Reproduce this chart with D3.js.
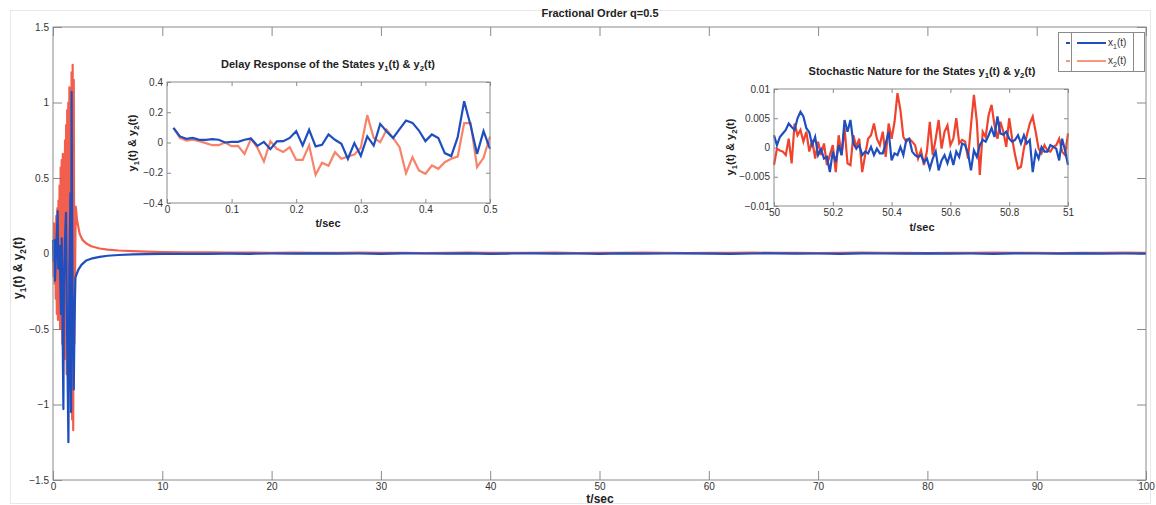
<!DOCTYPE html>
<html>
<head>
<meta charset="utf-8">
<script src="https://cdn.jsdelivr.net/npm/d3@7"></script>
<style>
  body { margin: 0; background: #fff; }
  svg { display: block; font-family: "Liberation Sans", Arial, Helvetica, sans-serif; }
  .tick text { fill: #333; }
</style>
</head>
<body>
<svg id="chart" width="1156" height="505"></svg>
<script>
// ---- data ----
// main plot, x1 (blue) transient
var spikeT1 = [0, 0.05, 0.13, 0.18, 0.30, 0.43, 0.48, 0.60, 0.73, 0.80, 0.95, 1.00,
               1.10, 1.19, 1.25, 1.41, 1.50, 1.60, 1.65, 1.70, 1.78, 1.90, 1.97];
var spikeY1 = [0.09, -0.05, 0.09, -0.18, 0.05, 0.28, -0.10, 0.05, -0.40, 0.10, -1.03, -0.20,
               0.10, 0.27, -0.30, -1.25, -0.10, 0.40, -1.05, 1.07, -0.20, -0.90, -0.44];
var decayT1 = [2.05, 2.3, 2.6, 3.05, 3.6, 4.27, 5, 6, 7.3, 8.5];
var decayY1 = [-0.16, -0.11, -0.075, -0.046, -0.032, -0.022, -0.015, -0.010, -0.006, -0.004];

// main plot, x2 (red) transient, sampled every 0.05 s from 0 to 1.95
var spikeY2 = [0.05, -0.15, 0.20, -0.20, 0.10, -0.30, 0.25, -0.40, 0.30, -0.44,
               0.35, -0.25, 0.45, -0.50, 0.57, -0.35, 0.62, -0.60, 0.66, -0.55,
               0.50, -0.70, 0.75, -0.65, 0.85, -0.80, 0.95, -0.75, 1.00, -0.90,
               1.10, -0.85, 1.05, -1.00, 1.20, -1.10, 1.25, -1.17, 1.15, -0.60];
var decayT2 = [2.08, 2.2, 2.44, 2.7, 3.05, 3.5, 4.27, 5, 6, 7.3, 8.5];
var decayY2 = [0.31, 0.22, 0.13, 0.09, 0.066, 0.048, 0.033, 0.026, 0.02, 0.016, 0.012];

// main plot steady part, every 2 s from 10 to 100
var tailY1 = [-0.003, -0.002, -0.002, -0.001, -0.002, 0, -0.001, 0.001, -0.001, 0,
              -0.002, 0.001, 0, -0.001, 0.001, -0.002, 0, 0.001, -0.001, 0,
              -0.002, 0.001, -0.001, 0, 0.001, -0.001, -0.002, 0, 0.001, -0.001,
              0, -0.002, 0.001, 0, -0.001, 0.001, -0.001, 0, -0.002, 0.001,
              0, -0.001, 0.001, -0.001, 0, -0.001];
var tailY2 = [0.009, 0.008, 0.007, 0.006, 0.006, 0.005, 0.006, 0.004, 0.005, 0.006,
              0.004, 0.005, 0.003, 0.005, 0.006, 0.004, 0.005, 0.004, 0.006, 0.003,
              0.005, 0.004, 0.006, 0.005, 0.003, 0.005, 0.004, 0.006, 0.004, 0.005,
              0.003, 0.005, 0.006, 0.004, 0.005, 0.003, 0.005, 0.004, 0.006, 0.004,
              0.005, 0.003, 0.005, 0.004, 0.006, 0.004];

// inset 1: delay response, t = 0.01 .. 0.50
var delayY1 = [0.097, 0.04, 0.024, 0.03, 0.018, 0.018, 0.022, 0.018, 0, 0.004,
               0.004, 0.018, 0.026, -0.022, 0.004, -0.044, 0.007, 0.009, 0.03, 0.075,
               -0.02, 0.084, -0.026, -0.015, 0.053, 0.018, -0.009, -0.108, -0.004, -0.088,
               0.04, -0.02, 0.123, 0.073, 0.03, 0.088, 0.145, 0.13, 0.079, 0.009,
               0.053, 0.029, -0.07, -0.09, 0.035, 0.273, 0.112, -0.075, 0.075, -0.042];
var delayY2 = [0.097, 0.03, 0.013, 0.018, 0.009, -0.004, -0.018, -0.018, 0, -0.024,
               -0.022, -0.075, 0.024, -0.035, -0.126, 0.009, -0.042, -0.062, -0.031, -0.115,
               -0.115, -0.018, -0.214, -0.134, -0.154, -0.064, -0.108, -0.093, -0.079, -0.035,
               0.181, 0.03, 0.002, 0.084, 0.03, -0.031, -0.203, -0.097, -0.185, -0.207,
               -0.152, -0.174, -0.13, -0.108, -0.093, 0.128, 0.128, -0.163, -0.101, 0.04];

// inset 2: stochastic nature, t = 50.00 .. 51.00
var stochY1 = [0.0021, 0.0004, 0.0018, 0.0024, 0.003, 0.0041, 0.0035, 0.003, 0.005, 0.0061,
               0.0053, 0.0033, 0.0026, 0.0004, 0.0018, -0.0013, -0.0003, -0.0019, -0.0016, -0.0042,
               -0.0007, -0.0025, 0.0004, -0.0013, 0.0047, 0.0027, 0.0047, 0.0007, -0.0002, 0.0004,
               -0.0013, -0.0007, -0.001, 0.0001, -0.0013, -0.0002, -0.001, -0.001, 0.0007, 0.0027,
               -0.0022, -0.001, -0.0013, 0.0001, -0.0013, 0.0013, 0.0015, -0.0007, -0.0013, -0.0016,
               -0.0013, -0.0025, -0.0019, -0.0036, -0.0019, -0.0007, -0.0039, -0.0022, -0.0013, -0.0027,
               -0.001, -0.003, -0.0007, -0.0016, 0.0007, 0.0004, -0.001, -0.0039, -0.0005, -0.0016,
               0.0004, 0.0013, 0.001, 0.0021, 0.0033, 0.0018, 0.0053, 0.0024, 0.0022, 0.0027,
               0.0015, 0.001, 0.0013, 0.0021, 0.0007, 0.0021, 0.0007, 0.0013, -0.0042, -0.0007,
               -0.0019, 0.0001, -0.0007, -0.0007, 0.0004, 0.0001, -0.0002, -0.0022, 0.0015, -0.0005,
               -0.003];
var stochY2 = [-0.003, -0.0002, -0.0005, -0.0007, -0.0013, 0.0015, -0.0027, 0.0041, 0.0021, 0.003,
               0.001, 0.0027, -0.0007, 0.0013, -0.0019, 0.001, -0.0013, 0.0007, -0.003, -0.0013,
               0.0004, -0.0042, 0.0021, -0.0013, 0.0033, -0.0027, -0.003, 0.0021, 0.0001, 0.0015,
               -0.0042, -0.0013, 0.0015, 0.0021, 0.0041, 0.0015, 0.0004, 0.0027, -0.0016, 0.0041,
               0.0015, 0.0044, 0.0093, 0.0064, 0.0018, 0.001, 0.0015, 0.001, 0.0004, -0.0019,
               -0.0005, -0.003, -0.0007, 0.0044, -0.0013, 0.0015, 0.0047, -0.0002, 0.0027, 0.0038,
               0.0004, 0.0015, 0.005, 0.0007, 0.0013, 0.001, -0.0019, 0.0038, 0.009, 0.0044,
               -0.0047, 0.0027, 0.0018, 0.0055, 0.0073, 0.0038, 0.0015, 0.0044, 0.0027, 0.0001,
               0.005, 0.0015, -0.0013, -0.0036, -0.0033, -0.0002, 0.0021, 0.0041, 0.0053, 0.0027,
               -0.0002, -0.001, 0.0004, -0.0005, -0.0007, 0.0001, 0.0004, 0.0015, -0.0007, -0.0013,
               0.0024];

// tick labels
var mainXTicks = [0, 10, 20, 30, 40, 50, 60, 70, 80, 90, 100];
var mainYTicks = [-1.5, -1, -0.5, 0, 0.5, 1, 1.5];
var delayXTicks = [0, 0.1, 0.2, 0.3, 0.4, 0.5];
var delayYTicks = [-0.4, -0.2, 0, 0.2, 0.4];
var stochXTicks = [50, 50.2, 50.4, 50.6, 50.8, 51];
var stochYTicks = [-0.01, -0.005, 0, 0.005, 0.01];
var legendLabels = ["x1(t)", "x2(t)"];

// ---- build point lists ----
function zip(ts, ys) { return ts.map(function(t, i) { return [t, ys[i]]; }); }

var tailT = d3.range(10, 101, 2);
var spikeT2 = d3.range(40).map(function(i) { return i * 0.05; });
var delayT = d3.range(1, 51).map(function(i) { return i / 100; });
var stochT = d3.range(0, 101).map(function(i) { return 50 + i / 100; });

var main1 = zip(spikeT1, spikeY1).concat(zip(decayT1, decayY1), zip(tailT, tailY1));
var main2 = zip(spikeT2, spikeY2).concat(zip(decayT2, decayY2), zip(tailT, tailY2));

var blue = "#1f4fbf",
    red = "#f0432e",
    salmon = "#f7836b",
    axisColor = "#8a8a8a";

var svg = d3.select("#chart");

// faint figure frame
svg.append("rect")
    .attr("x", 10.5).attr("y", 10.5)
    .attr("width", 1140).attr("height", 493)
    .attr("fill", "none").attr("stroke", "#e8e8e8");

function fmt(d) {
    var s = String(+Math.abs(d).toFixed(4));
    return (d < 0 ? "\u2212" : "") + s;
}

// axes in matlab style: box, inward ticks on all four sides
function axesBox(g, x, y, xt, yt, tick, fontSize) {
    var x0 = x.range()[0], x1 = x.range()[1],
        y0 = y.range()[0], y1 = y.range()[1];

    g.append("rect")
        .attr("x", x0).attr("y", y1)
        .attr("width", x1 - x0).attr("height", y0 - y1)
        .attr("fill", "#fff");

    g.append("g")
        .attr("transform", "translate(0," + y0 + ")")
        .call(d3.axisBottom(x).tickValues(xt).tickFormat(fmt).tickSizeInner(-tick).tickSizeOuter(0).tickPadding(3))
        .call(function(a) { a.select(".domain").remove(); });
    g.append("g")
        .attr("transform", "translate(0," + y1 + ")")
        .call(d3.axisTop(x).tickValues(xt).tickFormat("").tickSizeInner(-tick).tickSizeOuter(0))
        .call(function(a) { a.select(".domain").remove(); });
    g.append("g")
        .attr("transform", "translate(" + x0 + ",0)")
        .call(d3.axisLeft(y).tickValues(yt).tickFormat(fmt).tickSizeInner(-tick).tickSizeOuter(0).tickPadding(4))
        .call(function(a) { a.select(".domain").remove(); });
    g.append("g")
        .attr("transform", "translate(" + x1 + ",0)")
        .call(d3.axisRight(y).tickValues(yt).tickFormat("").tickSizeInner(-tick).tickSizeOuter(0))
        .call(function(a) { a.select(".domain").remove(); });

    g.selectAll(".tick line").attr("stroke", axisColor);
    g.selectAll(".tick text").attr("font-size", fontSize).attr("font-family", null);

    g.append("rect")
        .attr("class", "frame")
        .attr("x", x0).attr("y", y1)
        .attr("width", x1 - x0).attr("height", y0 - y1)
        .attr("fill", "none").attr("stroke", axisColor);
}

function yLabel(g, xPos, yPos, size) {
    var t = g.append("text")
        .attr("transform", "translate(" + xPos + "," + yPos + ") rotate(-90)")
        .attr("text-anchor", "middle")
        .attr("font-weight", "bold")
        .attr("font-size", size)
        .attr("fill", "#222");
    t.append("tspan").text("y");
    t.append("tspan").text("1").attr("font-size", size * 0.7).attr("dy", size * 0.3);
    t.append("tspan").text("(t) & y").attr("dy", -size * 0.3);
    t.append("tspan").text("2").attr("font-size", size * 0.7).attr("dy", size * 0.3);
    t.append("tspan").text("(t)").attr("dy", -size * 0.3);
}

function titleText(g, xPos, yPos, label, size) {
    var t = g.append("text")
        .attr("x", xPos).attr("y", yPos)
        .attr("text-anchor", "middle")
        .attr("font-weight", "bold")
        .attr("font-size", size)
        .attr("fill", "#222");
    t.append("tspan").text(label + " y");
    t.append("tspan").text("1").attr("font-size", size * 0.7).attr("dy", size * 0.3);
    t.append("tspan").text("(t) & y").attr("dy", -size * 0.3);
    t.append("tspan").text("2").attr("font-size", size * 0.7).attr("dy", size * 0.3);
    t.append("tspan").text("(t)").attr("dy", -size * 0.3);
}

function plainText(g, xPos, yPos, label, size, weight) {
    g.append("text")
        .attr("x", xPos).attr("y", yPos)
        .attr("text-anchor", "middle")
        .attr("font-weight", weight)
        .attr("font-size", size)
        .attr("fill", "#222")
        .text(label);
}

// ---- main axes ----
var x = d3.scaleLinear().domain([0, 100]).range([53, 1146]),
    y = d3.scaleLinear().domain([-1.5, 1.5]).range([480, 27]);

var gMain = svg.append("g");
axesBox(gMain, x, y, mainXTicks, mainYTicks, 9, 10);

var line = d3.line()
    .x(function(d) { return x(d[0]); })
    .y(function(d) { return y(d[1]); });

gMain.append("path")
    .datum(main2)
    .attr("d", line)
    .attr("fill", "none")
    .attr("stroke", red)
    .attr("stroke-opacity", 0.85)
    .attr("stroke-width", 2.2)
    .attr("stroke-linejoin", "round");

gMain.append("path")
    .datum(main1)
    .attr("d", line)
    .attr("fill", "none")
    .attr("stroke", blue)
    .attr("stroke-width", 2.2)
    .attr("stroke-linejoin", "round");

gMain.select(".frame").raise();

plainText(svg, 600, 17, "Fractional Order q=0.5", 11, "bold");
plainText(svg, 600, 503, "t/sec", 12, "bold");
yLabel(svg, 22, 268, 12);

// ---- inset 1 ----
var xd = d3.scaleLinear().domain([0, 0.5]).range([167, 490]),
    yd = d3.scaleLinear().domain([-0.4, 0.4]).range([203, 82]);
var gDelay = svg.append("g");
axesBox(gDelay, xd, yd, delayXTicks, delayYTicks, 4, 10);

var lineD = d3.line().x(function(d) { return xd(d[0]); }).y(function(d) { return yd(d[1]); });
gDelay.append("path").datum(zip(delayT, delayY2)).attr("d", lineD)
    .attr("fill", "none").attr("stroke", salmon).attr("stroke-width", 2.2);
gDelay.append("path").datum(zip(delayT, delayY1)).attr("d", lineD)
    .attr("fill", "none").attr("stroke", blue).attr("stroke-width", 2.2);
gDelay.select(".frame").raise();

titleText(gDelay, 328, 68, "Delay Response of the States", 11);
yLabel(gDelay, 136, 143, 11);
plainText(gDelay, 328, 227, "t/sec", 11, "bold");

// ---- inset 2 ----
var xs = d3.scaleLinear().domain([50, 51]).range([774, 1068]),
    ys = d3.scaleLinear().domain([-0.01, 0.01]).range([206, 89]);
var gStoch = svg.append("g");
axesBox(gStoch, xs, ys, stochXTicks, stochYTicks, 4, 10);

var lineS = d3.line().x(function(d) { return xs(d[0]); }).y(function(d) { return ys(d[1]); });
gStoch.append("path").datum(zip(stochT, stochY2)).attr("d", lineS)
    .attr("fill", "none").attr("stroke", red).attr("stroke-width", 2.2);
gStoch.append("path").datum(zip(stochT, stochY1)).attr("d", lineS)
    .attr("fill", "none").attr("stroke", blue).attr("stroke-width", 2.2);
gStoch.select(".frame").raise();

titleText(gStoch, 922, 75, "Stochastic Nature for the States", 11);
yLabel(gStoch, 734, 147, 11);
plainText(gStoch, 922, 231, "t/sec", 11, "bold");

// ---- legend ----
var gLeg = svg.append("g");
gLeg.append("rect")
    .attr("x", 1058.5).attr("y", 32.5).attr("width", 86).attr("height", 39)
    .attr("fill", "#fff").attr("stroke", axisColor);
gLeg.selectAll(".sep")
    .data([1071.5, 1133.5])
    .enter().append("line")
    .attr("x1", function(d) { return d; }).attr("x2", function(d) { return d; })
    .attr("y1", 32.5).attr("y2", 71.5)
    .attr("stroke", axisColor);

var legColors = [blue, "#f9987f"];
legendLabels.forEach(function(lab, i) {
    var ly = 43 + i * 18;
    gLeg.append("line").attr("x1", 1066).attr("x2", 1070).attr("y1", ly).attr("y2", ly)
        .attr("stroke", legColors[i]).attr("stroke-width", 2);
    gLeg.append("line").attr("x1", 1077).attr("x2", 1106).attr("y1", ly).attr("y2", ly)
        .attr("stroke", legColors[i]).attr("stroke-width", 2);
    var t = gLeg.append("text").attr("x", 1108).attr("y", ly + 3)
        .attr("font-size", 10).attr("fill", "#333");
    t.append("tspan").text(lab.charAt(0));
    t.append("tspan").text(lab.charAt(1)).attr("font-size", 7).attr("dy", 3);
    t.append("tspan").text(lab.slice(2)).attr("dy", -3);
});
</script>
</body>
</html>
